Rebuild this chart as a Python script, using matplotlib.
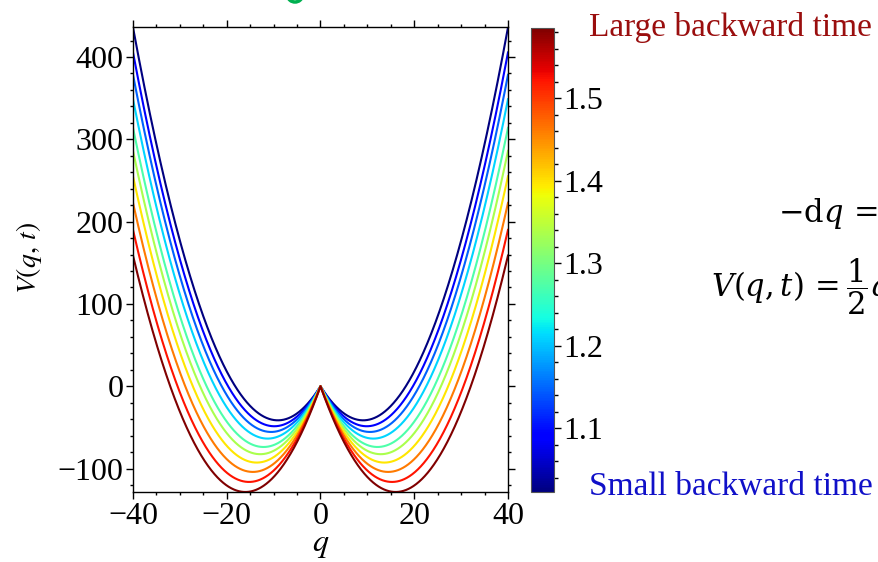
import numpy as np
import matplotlib
matplotlib.use("Agg")
import matplotlib.pyplot as plt
from matplotlib.ticker import MultipleLocator
from matplotlib.patches import Ellipse

plt.rcParams['font.family'] = ['Liberation Serif', 'DejaVu Serif']
plt.rcParams['mathtext.fontset'] = 'stix'

# backward time of each curve (colour) and linear coefficient read from the minima
t_vals = [1.023, 1.085, 1.148, 1.210, 1.273, 1.335, 1.398, 1.460, 1.523, 1.585]
b_vals = [9.10, 9.86, 10.54, 11.28, 12.15, 12.85, 13.62, 14.43, 15.25, 16.03]
t_min, t_max = 1.023, 1.585
x_ticks = [-40, -20, 0, 20, 40]
y_ticks = [-100, 0, 100, 200, 300, 400]
cb_ticks = [1.1, 1.2, 1.3, 1.4, 1.5]

W, H = 879, 562
fig = plt.figure(figsize=(W / 100, H / 100), dpi=100)

def fx(px):
    return px / W

def fy(py):
    return 1 - py / H

ax = fig.add_axes([fx(133), fy(492), fx(508) - fx(133), fy(27) - fy(492)])
cax = fig.add_axes([fx(531), fy(492), fx(554) - fx(531), fy(28) - fy(492)])

cmap = plt.get_cmap('jet')
norm = plt.Normalize(t_min, t_max)
q = np.linspace(-40, 40, 2001)
for t, b in zip(t_vals, b_vals):
    ax.plot(q, 0.5 * q**2 - b * np.abs(q), color=cmap(norm(t)), lw=1.5)

ax.set_xlim(-40, 40)
ax.set_ylim(-128.5, 436.5)
ax.set_xticks(x_ticks)
ax.set_yticks(y_ticks)
ax.xaxis.set_minor_locator(MultipleLocator(5))
ax.yaxis.set_minor_locator(MultipleLocator(20))
ax.tick_params(which='both', direction='out', top=True, right=True,
               labelsize=23, width=1, pad=2)
ax.tick_params(which='major', length=5)
ax.tick_params(which='minor', length=2.5)
for s in ax.spines.values():
    s.set_linewidth(1)
ax.set_xlabel(r'$q$', fontsize=23, labelpad=0)
ax.set_ylabel(r'$V(q,\,t)$', fontsize=20)
ax.yaxis.set_label_coords(-0.238, 0.504)

sm = matplotlib.cm.ScalarMappable(norm=norm, cmap=cmap)
cb = fig.colorbar(sm, cax=cax)
cb.set_ticks(cb_ticks)
cb.ax.yaxis.set_minor_locator(MultipleLocator(0.02))
cb.ax.tick_params(which='both', direction='out', labelsize=23, width=1, pad=2)
cb.ax.tick_params(which='major', length=5)
cb.ax.tick_params(which='minor', length=3)
cb.outline.set_linewidth(0.8)
cb.outline.set_edgecolor('#555555')

fig.text(fx(589), fy(36), 'Large backward time', color='#9a0e0e',
         fontsize=24, va='baseline', ha='left')
fig.text(fx(589), fy(495), 'Small backward time', color='#1010c8',
         fontsize=24, va='baseline', ha='left')
fig.text(fx(778), fy(222), r'$-\mathrm{d}q\,=$', fontsize=22,
         va='baseline', ha='left', math_fontfamily='dejavuserif')
fig.text(fx(711), fy(297), r'$V(q,t)\,=\dfrac{1}{2}q$', fontsize=22,
         va='baseline', ha='left', math_fontfamily='dejavuserif')

# green fragment cut off at the top edge
fig.add_artist(Ellipse((fx(295), fy(-4)), 14 / W, 12 / H, transform=fig.transFigure,
                       fill=False, edgecolor='#00b050', lw=2.5))

fig.savefig('out.png', dpi=100)
